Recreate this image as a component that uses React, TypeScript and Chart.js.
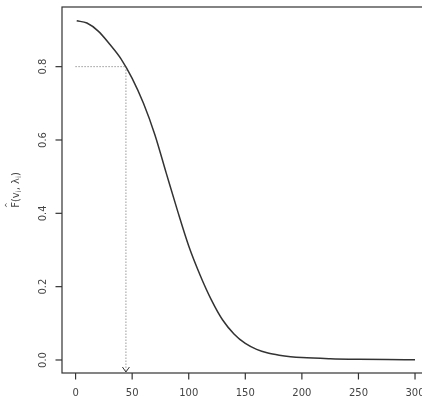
import React, { useEffect, useRef } from "react";
import { Chart, registerables } from "chart.js";

Chart.register(...registerables);

const xValues = [1, 10, 20, 30, 40, 50, 60, 70, 80, 90, 100, 110, 120, 130, 140, 150, 160, 170, 180, 190, 200, 225, 250, 275, 300];
const yValues = [0.925, 0.919, 0.897, 0.862, 0.822, 0.768, 0.700, 0.615, 0.511, 0.408, 0.311, 0.232, 0.164, 0.109, 0.071, 0.045, 0.029, 0.019, 0.013, 0.009, 0.0065, 0.0035, 0.002, 0.0012, 0.0008];
const xTicks = [0, 50, 100, 150, 200, 250, 300];
const yTicks = [0.0, 0.2, 0.4, 0.6, 0.8];
const yTickLabels = ["0.0", "0.2", "0.4", "0.6", "0.8"];
const cutX = 44.5;
const cutY = 0.8;

const W = 432;
const H = 412;

const rPlot = {
  id: "rPlot",
  afterDraw(chart: any) {
    const { ctx, chartArea: a, scales } = chart;
    const xs = scales.x;
    const ys = scales.y;
    ctx.save();
    // box
    ctx.strokeStyle = "#333";
    ctx.lineWidth = 1.2;
    ctx.setLineDash([]);
    ctx.strokeRect(a.left, a.top, a.right - a.left, a.bottom - a.top);

    ctx.fillStyle = "#444";
    ctx.font = "10px 'DejaVu Sans', sans-serif";
    // x ticks
    ctx.textAlign = "center";
    ctx.textBaseline = "middle";
    xTicks.forEach((v) => {
      const px = xs.getPixelForValue(v);
      ctx.beginPath();
      ctx.moveTo(px, a.bottom);
      ctx.lineTo(px, a.bottom + 6.5);
      ctx.stroke();
      ctx.fillText(String(v), px, 393);
    });
    // y ticks
    yTicks.forEach((v, i) => {
      const py = ys.getPixelForValue(v);
      ctx.beginPath();
      ctx.moveTo(a.left, py);
      ctx.lineTo(a.left - 6.5, py);
      ctx.stroke();
      ctx.save();
      ctx.translate(43, py);
      ctx.rotate(-Math.PI / 2);
      ctx.fillText(yTickLabels[i], 0, 0);
      ctx.restore();
    });

    // y-axis title: F-hat(v_i, lambda_i)
    ctx.save();
    ctx.translate(15, (a.top + a.bottom) / 2);
    ctx.rotate(-Math.PI / 2);
    const big = "10px 'DejaVu Sans', sans-serif";
    const small = "7px 'DejaVu Sans', sans-serif";
    const parts: [string, boolean][] = [["F", false], ["(v", false], ["i", true], [", λ", false], ["i", true], [")", false]];
    let total = 0;
    parts.forEach(([t, s]) => {
      ctx.font = s ? small : big;
      total += ctx.measureText(t).width;
    });
    let cx = -total / 2;
    ctx.textAlign = "left";
    ctx.textBaseline = "alphabetic";
    parts.forEach(([t, s], idx) => {
      ctx.font = s ? small : big;
      const w = ctx.measureText(t).width;
      ctx.fillText(t, cx, s ? 5.5 : 3.5);
      if (idx === 0) {
        ctx.font = "7px 'DejaVu Sans', sans-serif";
        ctx.textAlign = "center";
        ctx.fillText("^", cx + w / 2, -5);
        ctx.textAlign = "left";
      }
      cx += w;
    });
    ctx.restore();

    // dotted guide lines
    const gx = xs.getPixelForValue(cutX);
    const gy = ys.getPixelForValue(cutY);
    const x0 = xs.getPixelForValue(0);
    ctx.strokeStyle = "#666";
    ctx.lineWidth = 1;
    ctx.setLineDash([1, 2]);
    ctx.beginPath();
    ctx.moveTo(x0, gy);
    ctx.lineTo(gx, gy);
    ctx.moveTo(gx, gy);
    ctx.lineTo(gx, a.bottom - 1);
    ctx.stroke();
    ctx.setLineDash([]);
    ctx.strokeStyle = "#333";
    ctx.beginPath();
    ctx.moveTo(gx - 3.5, a.bottom - 6);
    ctx.lineTo(gx, a.bottom - 1);
    ctx.lineTo(gx + 3.5, a.bottom - 6);
    ctx.stroke();
    ctx.restore();
  },
};

export default function App() {
  const ref = useRef<HTMLCanvasElement>(null);
  useEffect(() => {
    if (!ref.current) return;
    const chart = new Chart(ref.current, {
      type: "line",
      data: {
        datasets: [
          {
            data: xValues.map((x, i) => ({ x, y: yValues[i] })),
            borderColor: "#333",
            borderWidth: 1.5,
            pointRadius: 0,
            cubicInterpolationMode: "monotone",
            fill: false,
          },
        ],
      },
      options: {
        responsive: false,
        animation: false,
        devicePixelRatio: 1,
        layout: { padding: { left: 62, top: 7, right: W - 428.6, bottom: H - 373 } },
        plugins: { legend: { display: false }, tooltip: { enabled: false } },
        scales: {
          x: { type: "linear", min: -12, max: 312, display: false },
          y: { type: "linear", min: -0.0355, max: 0.9627, display: false },
        },
      },
      plugins: [rPlot],
    });
    return () => chart.destroy();
  }, []);
  return (
    <div style={{ position: "fixed", left: 0, top: 0, width: 422, height: 412, overflow: "hidden", background: "#fff" }}>
      <canvas ref={ref} width={W} height={H} style={{ width: W, height: H, display: "block" }} />
    </div>
  );
}
